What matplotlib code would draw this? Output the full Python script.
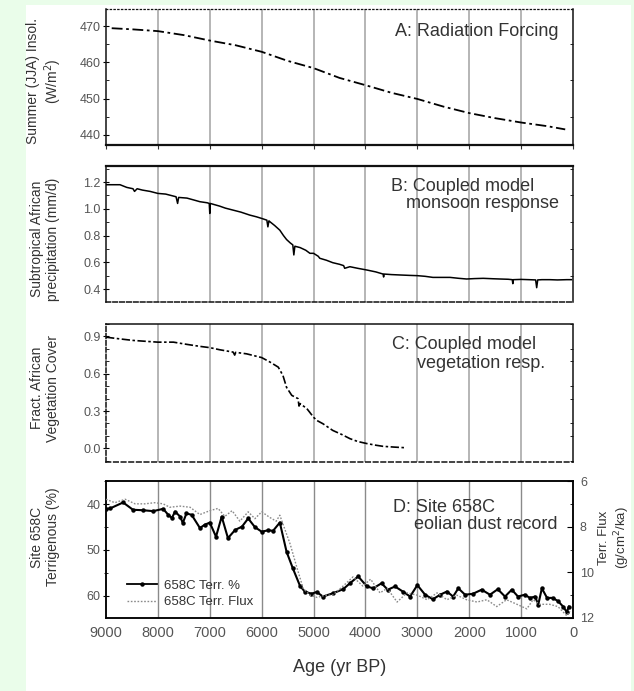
import matplotlib
matplotlib.use("Agg")
import matplotlib.pyplot as plt
from matplotlib.ticker import MultipleLocator, FixedLocator
from matplotlib.lines import Line2D

plt.rcParams['font.family'] = ['Liberation Sans', 'DejaVu Sans']

# ---------------- data ----------------
ages_A = [8890, 8500, 8000, 7500, 7000, 6500, 6000, 5500, 5000, 4500, 4000,
          3500, 3000, 2500, 2000, 1500, 1000, 500, 150]
insol_A = [469.4, 469.1, 468.6, 467.5, 466.0, 464.7, 462.9, 460.4, 458.4, 455.7,
           453.7, 451.6, 449.9, 447.8, 446.0, 444.6, 443.4, 442.4, 441.5]

ages_B = [9000, 8900, 8730, 8600, 8480, 8450, 8400, 8300, 8150, 8000, 7850,
          7700, 7650, 7620, 7600, 7440, 7300, 7190, 7050, 7010, 7000, 6990,
          6810, 6700, 6550, 6400, 6230, 6100, 6000, 5900, 5880, 5860, 5840,
          5750, 5650, 5580, 5520, 5450, 5400, 5380, 5360, 5260, 5150, 5070,
          5000, 4910, 4880, 4750, 4630, 4500, 4420, 4400, 4300, 4150, 3970,
          3800, 3660, 3650, 3640, 3500, 3330, 3150, 3000, 2850, 2700, 2500,
          2370, 2200, 2050, 1900, 1730, 1550, 1410, 1250, 1170, 1160, 1150,
          1000, 850, 720, 700, 680, 600, 450, 300, 120, 30]
precip_B = [1.18, 1.18, 1.18, 1.16, 1.15, 1.13, 1.15, 1.14, 1.13, 1.115, 1.11,
            1.095, 1.09, 1.04, 1.085, 1.08, 1.065, 1.053, 1.045, 1.04, 0.965, 1.04,
            1.02, 1.005, 0.99, 0.975, 0.953, 0.94, 0.928, 0.915, 0.865, 0.91, 0.903,
            0.875, 0.84, 0.80, 0.77, 0.745, 0.73, 0.655, 0.72, 0.71, 0.69, 0.667,
            0.667, 0.645, 0.63, 0.615, 0.597, 0.585, 0.575, 0.555, 0.567, 0.555, 0.542,
            0.528, 0.512, 0.49, 0.512, 0.508, 0.505, 0.502, 0.50, 0.495, 0.487, 0.487,
            0.487, 0.48, 0.475, 0.478, 0.48, 0.477, 0.475, 0.473, 0.47, 0.44, 0.47,
            0.472, 0.47, 0.468, 0.41, 0.468, 0.47, 0.47, 0.468, 0.47, 0.47]

ages_C = [9000, 8730, 8480, 8210, 8000, 7700, 7440, 7190, 7000, 6810, 6550,
          6520, 6500, 6290, 6000, 5840, 5680, 5590, 5520, 5420, 5300, 5280,
          5260, 5130, 5000, 4940, 4820, 4630, 4450, 4300, 4150, 3970, 3800,
          3660, 3450, 3240]
veg_C = [0.894, 0.88, 0.868, 0.86, 0.854, 0.854, 0.836, 0.82, 0.81, 0.793, 0.774,
         0.75, 0.772, 0.76, 0.73, 0.694, 0.653, 0.586, 0.49, 0.426, 0.40, 0.34,
         0.36, 0.32, 0.25, 0.225, 0.198, 0.144, 0.11, 0.078, 0.055, 0.038, 0.025,
         0.016, 0.01, 0.005]

ages_pct = [9000, 8920, 8670, 8480, 8290, 8090, 7900, 7800, 7730, 7670, 7570,
            7520, 7450, 7350, 7190, 7100, 7000, 6880, 6770, 6650, 6510, 6380,
            6260, 6130, 6000, 5880, 5780, 5650, 5520, 5400, 5260, 5170, 5040,
            4940, 4820, 4630, 4430, 4300, 4140, 3970, 3850, 3690, 3570, 3430,
            3280, 3140, 3000, 2850, 2700, 2560, 2430, 2310, 2210, 2080, 1930,
            1760, 1600, 1450, 1310, 1180, 1060, 930, 830, 730, 670, 600, 500,
            390, 290, 190, 120, 80]
terr_pct = [41.0, 40.9, 39.6, 41.2, 41.3, 41.5, 41.0, 42.3, 43.0, 41.6, 42.7,
            44.1, 42.0, 42.3, 45.2, 44.5, 44.0, 47.1, 42.7, 47.4, 45.6, 44.9,
            43.1, 45.0, 46.0, 45.7, 45.8, 44.0, 50.4, 54.0, 57.9, 59.1, 59.6,
            59.2, 60.2, 59.5, 58.6, 57.3, 55.8, 58.0, 58.4, 57.3, 58.7, 58.0,
            59.1, 60.2, 57.7, 59.8, 60.8, 59.8, 59.1, 60.2, 58.4, 59.8, 59.6,
            58.7, 59.8, 58.6, 60.2, 58.7, 60.2, 59.8, 60.5, 60.2, 62.0, 58.4, 60.5,
            60.5, 61.2, 62.4, 63.6, 62.4]

ages_flux = [9000, 8830, 8630, 8440, 8250, 8060, 7900, 7770, 7570, 7380, 7190,
             7000, 6840, 6710, 6570, 6420, 6260, 6130, 6000, 5840, 5720, 5650,
             5450, 5320, 5200, 5070, 4930, 4780, 4630, 4430, 4240, 4050, 3900,
             3720, 3580, 3390, 3200, 3000, 2810, 2620, 2430, 2240, 2050, 1850,
             1660, 1470, 1280, 1080, 890, 770, 640, 450, 290, 120, 60]
terr_flux = [6.8, 6.95, 6.8, 7.0, 7.0, 6.95, 7.0, 7.15, 7.1, 7.15, 7.47,
             7.3, 7.2, 7.55, 7.3, 7.76, 7.35, 7.65, 7.35, 7.6, 7.76, 7.5,
             8.77, 9.8, 10.7, 11.0, 11.1, 11.0, 11.0, 10.6, 10.2, 10.6, 10.3,
             10.9, 10.7, 11.3, 10.9, 11.0, 11.2, 10.9, 11.2, 11.0, 11.2, 11.3,
             11.2, 11.5, 11.2, 11.4, 11.6, 11.2, 11.4, 11.4, 11.5, 11.9, 11.7]

age_ticks = [9000, 8000, 7000, 6000, 5000, 4000, 3000, 2000, 1000, 0]

# ---------------- figure ----------------
W, H = 634, 691
fig = plt.figure(figsize=(W / 100, H / 100), dpi=100)
fig.patch.set_facecolor('#eafdea')
fig.patches.append(plt.Rectangle((26 / W, 0), (631 - 26) / W, (H - 5) / H,
                                 transform=fig.transFigure, facecolor='white',
                                 edgecolor='none', zorder=-10))

def ax_rect(top, bottom, left=106, right=573):
    return [left / W, (H - bottom) / H, (right - left) / W, (bottom - top) / H]

TXT = '#333333'
TCK = '#555555'

def base(ax, gridcol='#b0b0b0', gridlw=1.3):
    ax.set_facecolor('none')
    ax.set_xlim(9000, 0)
    for a in age_ticks[1:-1]:
        ax.axvline(a, color=gridcol, lw=gridlw, zorder=1)
    ax.set_xticks(age_ticks)
    ax.tick_params(axis='x', labelbottom=False, direction='out', length=3,
                   width=0.8, color='#333333')
    ax.tick_params(axis='y', labelsize=9, labelcolor=TCK, direction='inout',
                   length=4, width=0.8, pad=2)
    for s in ax.spines.values():
        s.set_linewidth(1.1)
        s.set_color('#111111')

# Panel A
axA = fig.add_axes(ax_rect(9, 145))
base(axA)
axA.plot(ages_A, insol_A, color='black', lw=1.3, ls=(0, (6, 2, 1.5, 2)), zorder=3)
axA.set_ylim(437.2, 474.7)
axA.yaxis.set_major_locator(FixedLocator([440, 450, 460, 470]))
axA.yaxis.set_minor_locator(MultipleLocator(5))
axA.tick_params(axis='y', which='minor', length=2, direction='in', right=True)
axA.spines['top'].set_linestyle((0, (1, 2)))
axA.spines['top'].set_linewidth(0.9)
axA.spines['right'].set_linestyle((0, (2, 1)))
axA.spines['bottom'].set_linewidth(1.6)
axA.text(0.968, 0.831, 'A: Radiation Forcing', transform=axA.transAxes,
         ha='right', va='center', fontsize=13, color=TXT)

# Panel B
axB = fig.add_axes(ax_rect(166, 302))
base(axB)
axB.plot(ages_B, precip_B, color='black', lw=1.1, zorder=3)
axB.set_ylim(0.303, 1.32)
axB.set_yticks([0.4, 0.6, 0.8, 1.0, 1.2])
axB.set_yticklabels(['0.4', '0.6', '0.8', '1.0', '1.2'])
axB.yaxis.set_minor_locator(MultipleLocator(0.1))
axB.tick_params(axis='y', which='minor', length=2, direction='in', right=True)
axB.tick_params(axis='x', length=0)
axB.spines['top'].set_linestyle((0, (4, 1)))
axB.spines['top'].set_linewidth(1.6)
axB.spines['right'].set_linestyle((0, (2, 1)))
axB.spines['bottom'].set_linestyle((0, (3, 1.5)))
axB.text(0.610, 0.846, 'B: Coupled model', transform=axB.transAxes,
         ha='left', va='center', fontsize=13, color=TXT)
axB.text(0.642, 0.721, 'monsoon response', transform=axB.transAxes,
         ha='left', va='center', fontsize=13, color=TXT)

# Panel C
axC = fig.add_axes(ax_rect(324, 462))
base(axC)
axC.plot(ages_C, veg_C, color='black', lw=1.2, ls=(0, (5, 1.5, 1.5, 1.5)), zorder=3)
axC.set_ylim(-0.11, 1.0)
axC.set_yticks([0.0, 0.3, 0.6, 0.9])
axC.set_yticklabels(['0.0', '0.3', '0.6', '0.9'])
axC.yaxis.set_minor_locator(MultipleLocator(0.1))
axC.tick_params(axis='y', which='minor', length=2, direction='in', right=True)
axC.tick_params(axis='x', length=0)
axC.spines['top'].set_linestyle((0, (4, 1, 1, 1)))
axC.spines['left'].set_linestyle((0, (3, 1.5)))
axC.spines['right'].set_linestyle((0, (2, 1)))
axC.spines['bottom'].set_linestyle((0, (3, 2)))
axC.text(0.612, 0.848, 'C: Coupled model', transform=axC.transAxes,
         ha='left', va='center', fontsize=13, color=TXT)
axC.text(0.666, 0.717, 'vegetation resp.', transform=axC.transAxes,
         ha='left', va='center', fontsize=13, color=TXT)

# Panel D
axD = fig.add_axes(ax_rect(481, 618))
base(axD, gridcol='#8a8a8a', gridlw=1.0)
axD.plot(ages_pct, terr_pct, color='black', lw=1.5, marker='o', ms=2.2, zorder=4)
axD.set_ylim(64.9, 34.9)
axD.set_yticks([40, 50, 60])
axD.yaxis.set_minor_locator(MultipleLocator(5))
axD.tick_params(axis='y', which='minor', length=3, direction='inout')
axD.tick_params(axis='x', labelbottom=True, labelsize=10.5, labelcolor=TCK,
                length=0, pad=6)
axD.set_xticklabels([str(a) for a in age_ticks])
axR = axD.twinx()
axR.set_facecolor('none')
axR.set_xlim(9000, 0)
axR.plot(ages_flux, terr_flux, color='#8a8a8a', lw=1.0, ls=(0, (1.2, 1.2)), zorder=3)
axR.set_ylim(12, 6)
axR.set_yticks([6, 8, 10, 12])
axR.yaxis.set_minor_locator(MultipleLocator(1))
axR.tick_params(axis='y', labelsize=9, labelcolor=TCK, direction='in', length=4,
                width=0.8, pad=5)
axR.tick_params(axis='y', which='minor', direction='in', length=2.5)
for s in axR.spines.values():
    s.set_linewidth(1.1)
axD.text(0.615, 0.81, 'D: Site 658C', transform=axD.transAxes,
         ha='left', va='center', fontsize=13, color=TXT)
axD.text(0.66, 0.679, 'eolian dust record', transform=axD.transAxes,
         ha='left', va='center', fontsize=13, color=TXT)
handles = [Line2D([], [], color='black', lw=1.3, marker='o', ms=2.2),
           Line2D([], [], color='#8a8a8a', lw=1.0, ls=(0, (1.2, 1.2)))]
axD.legend(handles, ['658C Terr. %', '658C Terr. Flux'], loc='lower left',
           bbox_to_anchor=(0.045, 0.07), frameon=False, fontsize=9.5,
           borderaxespad=0, borderpad=0, handlelength=2.3, labelspacing=0.35,
           handletextpad=0.5, labelcolor=TXT)

# axis labels
fig.text(45 / W, 1 - 81 / H, 'Summer (JJA) Insol.\n(W/m$^2$)', rotation=90,
         ha='center', va='center', fontsize=10, color=TXT, multialignment='center')
fig.text(45 / W, 1 - 239 / H, 'Subtropical African\nprecipitation (mm/d)', rotation=90,
         ha='center', va='center', fontsize=10, color=TXT, multialignment='center')
fig.text(45 / W, 1 - 388 / H, 'Fract. African\nVegetation Cover', rotation=90,
         ha='center', va='center', fontsize=10, color=TXT, multialignment='center')
fig.text(45 / W, 1 - 537 / H, 'Site 658C\nTerrigenous (%)', rotation=90,
         ha='center', va='center', fontsize=10, color=TXT, multialignment='center')
fig.text(615 / W, 1 - 538 / H, 'Terr. Flux\n(g/cm$^2$/ka)', rotation=90,
         ha='center', va='center', fontsize=9.5, color=TXT, multialignment='center')
fig.text(340 / W, 1 - 667 / H, 'Age (yr BP)', ha='center', va='center',
         fontsize=13, color=TXT)

fig.savefig('out.png', dpi=100, facecolor=fig.get_facecolor())
